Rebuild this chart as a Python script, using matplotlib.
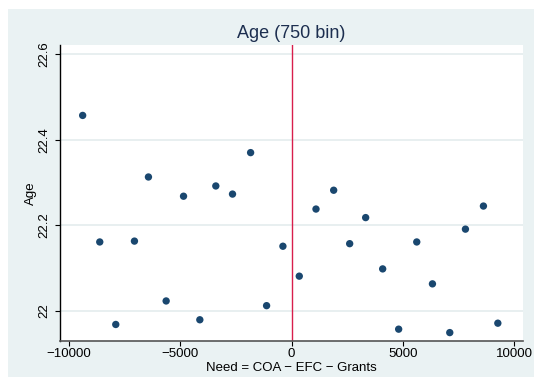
import matplotlib
matplotlib.use("Agg")
import matplotlib.pyplot as plt
from matplotlib.patches import Rectangle

# binned means, 750-wide bins of need
need = [-9385, -8617, -7898, -7059, -6430, -5635, -4854, -4122, -3404, -2654,
        -1841, -1123, -390, 345, 1096, 1890, 2609, 3327, 4091, 4809,
        5622, 6327, 7105, 7809, 8617, 9264]
age = [22.457, 22.161, 21.968, 22.163, 22.313, 22.023, 22.268, 21.979, 22.292, 22.273,
       22.370, 22.012, 22.151, 22.081, 22.238, 22.282, 22.157, 22.218, 22.098, 21.957,
       22.161, 22.063, 21.949, 22.191, 22.245, 21.971]

xticks = [-10000, -5000, 0, 5000, 10000]
yticks = [22, 22.2, 22.4, 22.6]
ytick_labels = ["22", "22.2", "22.4", "22.6"]

plt.rcParams['font.family'] = ['Liberation Sans', 'DejaVu Sans']

bg = '#eaf2f3'
navy = '#1a476f'

fig = plt.figure(figsize=(5.34, 3.87), dpi=100)
fig.patch.set_facecolor('white')
fig.patches.append(Rectangle((8 / 534, 10 / 387), 526 / 534, 368 / 387,
                             transform=fig.transFigure, facecolor=bg,
                             edgecolor='none', zorder=-10))

ax = fig.add_axes([0.1129, 0.1196, 0.8659, 0.7633])
ax.set_facecolor('white')

for y in yticks:
    ax.axhline(y, color='#e6eeef', lw=1.3, zorder=1)
ax.axvline(0, color='#d81e4c', lw=1.0, zorder=2)
ax.scatter(need, age, s=28, color=navy, edgecolors='none', zorder=3)

ax.set_xlim(-10390, 10380)
ax.set_ylim(21.930, 22.621)
ax.set_xticks(xticks)
ax.set_yticks(yticks)
ax.set_yticklabels(ytick_labels, rotation=90, va='center')

for s in ['top', 'right']:
    ax.spines[s].set_visible(False)
ax.spines['left'].set_color('black')
ax.spines['bottom'].set_color('#555555')
ax.spines['left'].set_linewidth(1.0)
ax.spines['bottom'].set_linewidth(1.2)

ax.tick_params(axis='both', labelsize=9.5, length=3.5, width=0.8, color='black')
ax.tick_params(axis='x', pad=2)
ax.tick_params(axis='y', pad=4)

ax.set_xlabel("Need = COA \u2212 EFC \u2212 Grants", fontsize=9.5, labelpad=1)
ax.set_ylabel("Age", fontsize=9.5, labelpad=1)
ax.set_title("Age (750 bin)", fontsize=13, color='#1c2e4f', pad=5.5)

fig.savefig("out.png", dpi=100)
